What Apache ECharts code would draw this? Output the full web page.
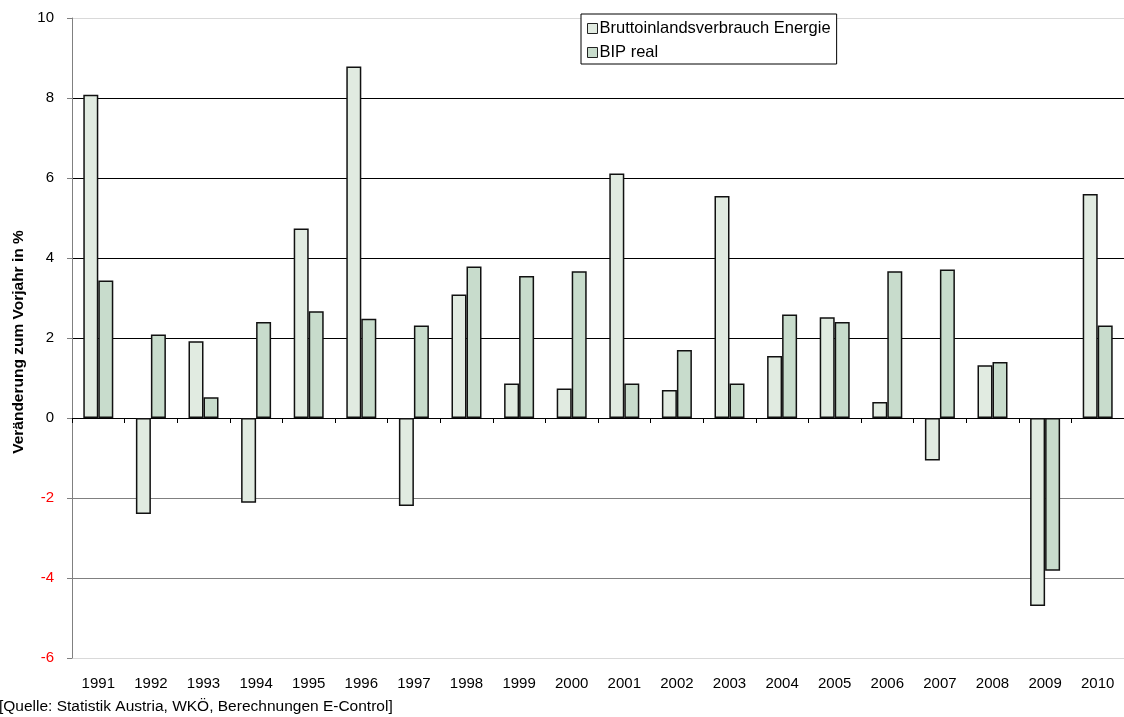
<!DOCTYPE html>
<html>
<head>
<meta charset="utf-8">
<script src="https://cdn.jsdelivr.net/npm/echarts@6/dist/echarts.min.js"></script>
<style>
html,body{margin:0;padding:0;background:#fff;}
#chart{width:1124px;height:717px;}
</style>
</head>
<body>
<div id="chart"></div>
<script>
const years = ['1991','1992','1993','1994','1995','1996','1997','1998','1999','2000','2001','2002','2003','2004','2005','2006','2007','2008','2009','2010'];
const energie = [8.08, -2.40, 1.92, -2.12, 4.74, 8.79, -2.20, 3.09, 0.86, 0.74, 6.11, 0.70, 5.55, 1.55, 2.52, 0.40, -1.06, 1.32, -4.70, 5.60];
const bip = [3.44, 2.09, 0.52, 2.40, 2.67, 2.48, 2.31, 3.79, 3.55, 3.67, 0.86, 1.70, 0.86, 2.59, 2.40, 3.67, 3.71, 1.40, -3.82, 2.31];
const seriesNames = ['Bruttoinlandsverbrauch Energie', 'BIP real'];
const yTicks = [-6, -4, -2, 0, 2, 4, 6, 8, 10];
const sourceText = '[Quelle: Statistik Austria, WKÖ, Berechnungen E-Control]';
const yName = 'Veränderung zum Vorjahr in %';

const FONT = 'Liberation Sans, Arial, sans-serif';
const chart = echarts.init(document.getElementById('chart'), null, {renderer: 'canvas'});
const gridColors = yTicks.map(v => v === -6 || v === 10 ? '#d9d9d9' : (v < 0 ? '#808080' : '#000000'));

chart.setOption({
  animation: false,
  backgroundColor: '#ffffff',
  textStyle: {fontFamily: FONT},
  grid: {left: 72, right: -5, top: 18, bottom: 59, containLabel: false},
  legend: {
    orient: 'vertical',
    left: 581, top: 14,
    padding: [6, 6, 3, 6],
    itemGap: 7,
    itemWidth: 10, itemHeight: 10,
    backgroundColor: '#ffffff',
    borderColor: '#000000', borderWidth: 1,
    textStyle: {fontFamily: FONT, fontSize: 16.5, color: '#000', padding: [0, 0, 0, -3]},
    itemStyle: {borderWidth: 1, borderColor: '#222'},
    data: seriesNames.map(n => ({name: n, icon: 'rect'}))
  },
  xAxis: [{
    type: 'category', data: years, position: 'bottom',
    axisLine: {onZero: true, lineStyle: {color: '#000', width: 1}},
    axisTick: {show: true, length: 5, inside: false, lineStyle: {color: '#000'}},
    axisLabel: {show: false},
    splitLine: {show: false}
  }, {
    type: 'category', data: years, position: 'bottom',
    axisLine: {show: false, onZero: false},
    axisTick: {show: false},
    axisLabel: {show: true, margin: 18, fontSize: 15, fontFamily: FONT, color: '#000'},
    splitLine: {show: false}
  }],
  yAxis: {
    type: 'value', min: -6, max: 10, interval: 2,
    name: yName, nameLocation: 'middle', nameGap: 41, nameRotate: 90,
    nameTextStyle: {fontFamily: FONT, fontSize: 15.5, fontWeight: 'bold', color: '#000', padding: [0, 8, 0, 0]},
    axisLine: {show: true, lineStyle: {color: '#808080', width: 1}},
    axisTick: {show: true, length: 5, lineStyle: {color: '#808080'}},
    axisLabel: {
      margin: 18, fontSize: 15, fontFamily: FONT,
      color: function (v) { return Number(v) < 0 ? '#ff0000' : '#000000'; }
    },
    splitLine: {show: true, lineStyle: {color: gridColors, width: 1}}
  },
  series: [{
    name: seriesNames[0], type: 'bar', data: energie,
    barWidth: 15, barGap: '0%',
    itemStyle: {color: '#e1ebe1', borderColor: '#111', borderWidth: 1.5}
  }, {
    name: seriesNames[1], type: 'bar', data: bip,
    barWidth: 15, barGap: '0%',
    itemStyle: {color: '#c8dccc', borderColor: '#111', borderWidth: 1.5}
  }],
  graphic: [{
    type: 'text', left: -1, top: 699,
    style: {text: sourceText, font: '15.5px ' + FONT, fill: '#000'}
  }]
});
</script>
</body>
</html>
